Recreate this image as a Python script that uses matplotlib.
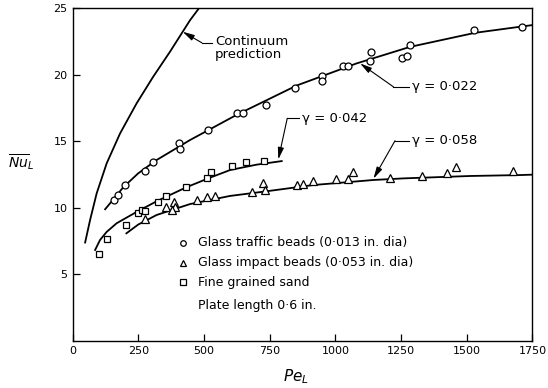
import matplotlib
matplotlib.use("Agg")
import matplotlib.pyplot as plt

# ---- data ----
circle_pe = [158, 173, 201, 276, 307, 406, 410, 514, 625, 650, 736, 848, 948, 951,
             1028, 1049, 1132, 1135, 1253, 1272, 1284, 1529, 1709]
circle_nu = [10.6, 10.95, 11.74, 12.75, 13.45, 14.85, 14.45, 15.85, 17.15, 17.15, 17.75,
             19.0, 19.93, 19.53, 20.68, 20.68, 21.06, 21.69, 21.24, 21.41, 22.24, 23.37, 23.57]

tri_pe = [276, 356, 386, 390, 377, 475, 511, 542, 682, 726, 733, 853, 878, 916,
          1001, 1049, 1067, 1208, 1329, 1424, 1459, 1677]
tri_nu = [9.15, 10.05, 10.45, 10.1, 9.84, 10.6, 10.8, 10.87, 11.17, 11.85, 11.35, 11.72,
          11.8, 12.04, 12.2, 12.15, 12.68, 12.22, 12.4, 12.6, 13.05, 12.8]

sq_pe = [100, 130, 204, 250, 263, 276, 326, 356, 433, 513, 528, 607, 661, 727]
sq_nu = [6.53, 7.69, 8.69, 9.59, 9.84, 9.74, 10.44, 10.86, 11.59, 12.22, 12.72, 13.16, 13.45, 13.54]

cont_pe = [48, 67, 92, 130, 181, 244, 307, 371, 447, 481]
cont_nu = [7.4, 9.1, 11.1, 13.35, 15.6, 17.86, 19.86, 21.74, 24.1, 25.0]

g022_pe = [124, 160, 193, 250, 320, 447, 625, 853, 1081, 1284, 1532, 1750]
g022_nu = [9.9, 10.75, 11.55, 12.6, 13.6, 15.1, 17.0, 19.2, 20.86, 22.1, 23.16, 23.74]

g042_pe = [86, 105, 130, 168, 244, 320, 433, 520, 600, 700, 796]
g042_nu = [6.84, 7.6, 8.2, 8.85, 9.7, 10.5, 11.55, 12.25, 12.85, 13.25, 13.52]

g058_pe = [205, 250, 320, 447, 599, 726, 916, 1145, 1259, 1513, 1703, 1750]
g058_nu = [8.09, 8.75, 9.47, 10.29, 10.9, 11.22, 11.72, 12.1, 12.22, 12.4, 12.47, 12.5]

x_ticks = [0, 250, 500, 750, 1000, 1250, 1500, 1750]
y_ticks = [5, 10, 15, 20, 25]

legend_labels = ["Glass traffic beads (0\u00b7013 in. dia)",
                 "Glass impact beads (0\u00b7053 in. dia)",
                 "Fine grained sand"]
note_label = "Plate length 0\u00b76 in."

fig = plt.figure(figsize=(5.48, 3.88), dpi=100)
ax = fig.add_axes([0.1323, 0.1211, 0.8394, 0.8575])

lw = 1.3
ax.plot(cont_pe, cont_nu, color="black", lw=lw)
ax.plot(g022_pe, g022_nu, color="black", lw=lw)
ax.plot(g042_pe, g042_nu, color="black", lw=lw)
ax.plot(g058_pe, g058_nu, color="black", lw=lw)

mk = dict(linestyle="none", mfc="white", mec="black", mew=0.9, zorder=3)
ax.plot(circle_pe, circle_nu, marker="o", ms=5, **mk)
ax.plot(tri_pe, tri_nu, marker="^", ms=5.5, **mk)
ax.plot(sq_pe, sq_nu, marker="s", ms=5, **mk)

ax.set_xlim(0, 1750)
ax.set_ylim(0, 25)
ax.set_xticks(x_ticks)
ax.set_yticks(y_ticks)
ax.tick_params(direction="in", length=5, width=0.9, labelsize=8, top=False, right=False)
for s in ax.spines.values():
    s.set_linewidth(1.0)

# legend (manual)
leg_x_mark, leg_x_text = 419, 479
leg_y = [7.39, 5.88, 4.41]
for (m, ms), y, lab in zip([("o", 4), ("^", 4.5), ("s", 4)], leg_y, legend_labels):
    ax.plot([leg_x_mark], [y], marker=m, ms=ms, **mk)
    ax.text(leg_x_text, y, lab, fontsize=9, va="center", ha="left")
ax.text(leg_x_text, 2.70, note_label, fontsize=9, va="center", ha="left")

# annotations with leaders
def leader(text, tx, ty, corner_x, head_x, head_y, **kw):
    ax.text(tx, ty, text, fontsize=9.5, va="center", ha="left", **kw)
    ax.plot([tx - 10, corner_x], [ty, ty], color="black", lw=0.8)
    ax.annotate("", xy=(head_x, head_y), xytext=(corner_x, ty),
                arrowprops=dict(arrowstyle="-|>,head_length=0.7,head_width=0.18",
                                color="black", lw=0.8, shrinkA=0, shrinkB=0))

ax.text(542, 22.05, "Continuum\nprediction", fontsize=9.5, va="center", ha="left",
        linespacing=1.0)
ax.plot([530, 492], [22.41, 22.41], color="black", lw=0.8)
ax.annotate("", xy=(419, 23.24), xytext=(492, 22.41),
            arrowprops=dict(arrowstyle="-|>,head_length=0.7,head_width=0.18",
                            color="black", lw=0.8, shrinkA=0, shrinkB=0))

leader("\u03b3 = 0\u00b7022", 1291, 19.1, 1221, 1094, 20.86)
leader("\u03b3 = 0\u00b7042", 872, 16.73, 817, 783, 13.65)
leader("\u03b3 = 0\u00b7058", 1291, 15.05, 1227, 1145, 12.2)

fig.text(0.54, 0.028, r"$Pe_L$", fontsize=11, ha="center", va="center")
fig.text(0.038, 0.582, r"$\overline{Nu}_L$", fontsize=10, ha="center", va="center")

fig.savefig("out.png", dpi=100)
